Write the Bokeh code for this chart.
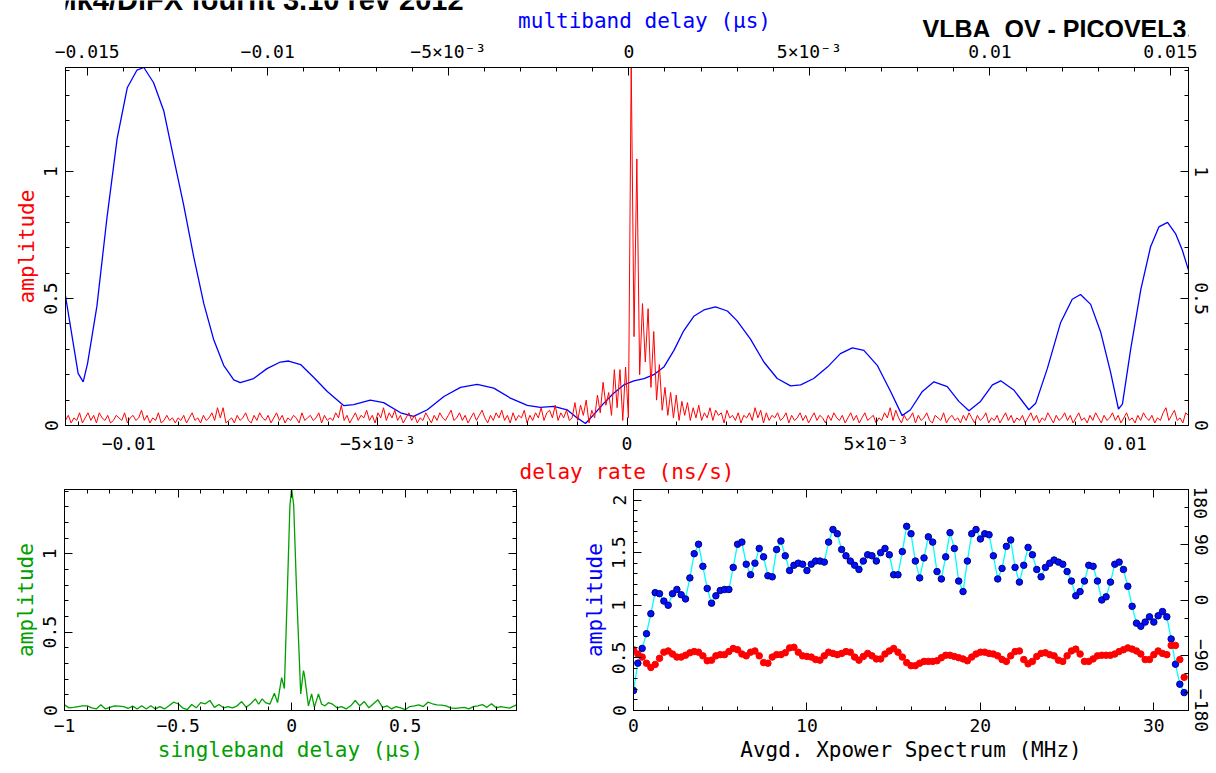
import numpy as np
from bokeh.plotting import figure
from bokeh.models import Range1d, LinearAxis, FixedTicker, CustomJSTickFormatter
from bokeh.core.properties import value
from bokeh.layouts import column, row
from bokeh.embed import file_html
from bokeh.resources import INLINE

FONT = "DejaVu Sans Mono"
BLUE = "#0000ff"
RED = "#ff0000"
GREEN = "#00a000"
CYAN = "#00ffff"

# ---------------- data ----------------
# multiband delay (us) vs amplitude  (blue, top axis)
mbd_delay = [-0.01560, -0.01525, -0.01511, -0.01499, -0.01473, -0.01445, -0.01417, -0.01389, -0.01362, -0.01343,
             -0.01316, -0.01288, -0.01260, -0.01233, -0.01205, -0.01177, -0.01150, -0.01122, -0.01094, -0.01076,
             -0.01039, -0.01002, -0.00965, -0.00942, -0.00909, -0.00873, -0.00835, -0.00789, -0.00762, -0.00716,
             -0.00679, -0.00632, -0.00596, -0.00558, -0.00512, -0.00466, -0.00420, -0.00374, -0.00328, -0.00281,
             -0.00245, -0.00208, -0.00171, -0.00143, -0.00120, -0.00097, -0.00069, -0.00042, -0.00014, 0.00014,
             0.00042, 0.00069, 0.00097, 0.00125, 0.00152, 0.00180, 0.00208, 0.00240, 0.00273, 0.00300,
             0.00337, 0.00374, 0.00411, 0.00448, 0.00476, 0.00512, 0.00550, 0.00586, 0.00619, 0.00651,
             0.00688, 0.00725, 0.00757, 0.00780, 0.00813, 0.00845, 0.00882, 0.00914, 0.00942, 0.00974,
             0.01007, 0.01030, 0.01066, 0.01108, 0.01127, 0.01159, 0.01196, 0.01228, 0.01251, 0.01279,
             0.01307, 0.01334, 0.01356, 0.01367, 0.01390, 0.01418, 0.01445, 0.01468, 0.01492, 0.01514,
             0.01533, 0.01551]
mbd_amp = [0.51, 0.205, 0.172, 0.244, 0.47, 0.82, 1.13, 1.33, 1.40, 1.41,
           1.35, 1.24, 1.05, 0.87, 0.665, 0.48, 0.34, 0.237, 0.18, 0.169,
           0.185, 0.224, 0.25, 0.254, 0.24, 0.19, 0.134, 0.078, 0.082, 0.10,
           0.09, 0.05, 0.036, 0.062, 0.114, 0.15, 0.162, 0.147, 0.108, 0.079,
           0.071, 0.075, 0.062, 0.03, 0.008, 0.043, 0.088, 0.127, 0.16, 0.176,
           0.185, 0.20, 0.23, 0.296, 0.373, 0.43, 0.455, 0.467, 0.451, 0.412,
           0.34, 0.25, 0.185, 0.156, 0.16, 0.185, 0.23, 0.283, 0.306, 0.296,
           0.237, 0.134, 0.039, 0.062, 0.134, 0.172, 0.153, 0.095, 0.058, 0.095,
           0.16, 0.176, 0.14, 0.062, 0.088, 0.224, 0.406, 0.497, 0.516, 0.477,
           0.367, 0.211, 0.065, 0.084, 0.302, 0.536, 0.704, 0.782, 0.80, 0.756,
           0.69, 0.607]

# delay-rate spectrum (red, bottom axis), evenly spaced over the delay-rate window
RATE_LIMIT = 0.01127
rate_amp = [
    0.02, 0.04, 0.01, 0.03, 0.02, 0.05, 0.01, 0.03, 0.05, 0.02, 0.04, 0.01, 0.05, 0.03, 0.02, 0.04, 0.01, 0.02, 0.04, 0.03,
    0.02, 0.05, 0.01, 0.03, 0.04, 0.02, 0.03, 0.06, 0.02, 0.04, 0.01, 0.03, 0.02, 0.05, 0.01, 0.02, 0.04, 0.02, 0.03, 0.01,
    0.03, 0.02, 0.04, 0.01, 0.03, 0.05, 0.02, 0.03, 0.01, 0.04, 0.02, 0.03, 0.05, 0.02, 0.07, 0.03, 0.07, 0.01, 0.02, 0.03,
    0.01, 0.04, 0.02, 0.03, 0.05, 0.02, 0.01, 0.04, 0.02, 0.05, 0.03, 0.02, 0.04, 0.01, 0.03, 0.05, 0.02, 0.04, 0.01, 0.03,
    0.02, 0.04, 0.03, 0.01, 0.05, 0.02, 0.03, 0.04, 0.02, 0.03, 0.05, 0.01, 0.04, 0.02, 0.03, 0.02, 0.05, 0.03, 0.08, 0.02,
    0.04, 0.01, 0.03, 0.05, 0.02, 0.04, 0.03, 0.06, 0.02, 0.04, 0.01, 0.05, 0.03, 0.07, 0.02, 0.05, 0.03, 0.06, 0.02, 0.04,
    0.01, 0.03, 0.05, 0.02, 0.04, 0.01, 0.03, 0.02, 0.05, 0.03, 0.01, 0.04, 0.02, 0.05, 0.03, 0.02, 0.04, 0.06, 0.02, 0.03,
    0.05, 0.02, 0.04, 0.01, 0.03, 0.05, 0.02, 0.04, 0.06, 0.03, 0.01, 0.04, 0.02, 0.05, 0.03, 0.06, 0.02, 0.04, 0.01, 0.05,
    0.02, 0.04, 0.03, 0.06, 0.01, 0.04, 0.02, 0.05, 0.03, 0.07, 0.02, 0.05, 0.06, 0.03, 0.08, 0.02, 0.05, 0.03, 0.06, 0.02,
    0.03, 0.09, 0.02, 0.08, 0.04, 0.10, 0.01, 0.06, 0.03, 0.12, 0.05, 0.17, 0.08, 0.13, 0.04, 0.22, 0.07, 0.22, 0.02, 0.23,
    0.03, 1.42, 0.35, 1.05, 0.20, 0.48, 0.25, 0.46, 0.15, 0.37, 0.10, 0.24, 0.06, 0.15, 0.04, 0.13, 0.03, 0.12, 0.02, 0.095,
    0.04, 0.09, 0.02, 0.07, 0.03, 0.08, 0.02, 0.05, 0.03, 0.07, 0.02, 0.06, 0.04, 0.05, 0.01, 0.06, 0.03, 0.04, 0.02, 0.05,
    0.01, 0.04, 0.03, 0.05, 0.02, 0.07, 0.03, 0.06, 0.01, 0.05, 0.02, 0.04, 0.03, 0.05, 0.02, 0.03, 0.05, 0.01, 0.04, 0.02,
    0.03, 0.05, 0.02, 0.04, 0.01, 0.03, 0.05, 0.02, 0.04, 0.03, 0.01, 0.04, 0.02, 0.05, 0.03, 0.02, 0.04, 0.01, 0.03, 0.05,
    0.02, 0.04, 0.01, 0.03, 0.05, 0.02, 0.03, 0.04, 0.01, 0.03, 0.02, 0.05, 0.03, 0.07, 0.02, 0.06, 0.03, 0.01, 0.04, 0.02,
    0.03, 0.05, 0.01, 0.04, 0.02, 0.03, 0.05, 0.02, 0.01, 0.04, 0.03, 0.02, 0.05, 0.01, 0.03, 0.04, 0.02, 0.03, 0.01, 0.04,
    0.02, 0.05, 0.03, 0.01, 0.04, 0.02, 0.03, 0.05, 0.01, 0.03, 0.02, 0.04, 0.01, 0.03, 0.05, 0.02, 0.04, 0.01, 0.03, 0.02,
    0.04, 0.01, 0.03, 0.05, 0.02, 0.04, 0.01, 0.03, 0.02, 0.05, 0.03, 0.01, 0.04, 0.02, 0.03, 0.05, 0.02, 0.04, 0.01, 0.03,
    0.05, 0.02, 0.03, 0.01, 0.04, 0.02, 0.05, 0.03, 0.01, 0.04, 0.02, 0.03, 0.05, 0.02, 0.04, 0.01, 0.03, 0.05, 0.02, 0.03,
    0.01, 0.04, 0.02, 0.05, 0.03, 0.02, 0.04, 0.01, 0.03, 0.02, 0.05, 0.07, 0.02, 0.04, 0.06, 0.02, 0.03, 0.01, 0.05, 0.04,
]

# singleband delay (us) vs amplitude (green)
sbd_delay = [-1.00, -0.98, -0.96, -0.94, -0.92, -0.90, -0.88, -0.86, -0.84, -0.82,
             -0.80, -0.78, -0.76, -0.74, -0.72, -0.70, -0.68, -0.66, -0.64, -0.62,
             -0.60, -0.58, -0.56, -0.54, -0.52, -0.50, -0.48, -0.46, -0.44, -0.42,
             -0.40, -0.38, -0.36, -0.34, -0.32, -0.30, -0.28, -0.26, -0.24, -0.22,
             -0.20, -0.18, -0.16, -0.145, -0.13, -0.115, -0.096, -0.076, -0.062, -0.044,
             -0.032, -0.018, -0.0075, 0.0, 0.009, 0.022, 0.040, 0.052, 0.056, 0.074,
             0.088, 0.100, 0.118, 0.132, 0.147, 0.162, 0.18, 0.20, 0.22, 0.24,
             0.26, 0.28, 0.30, 0.32, 0.34, 0.36, 0.38, 0.40, 0.42, 0.44,
             0.46, 0.48, 0.50, 0.52, 0.54, 0.56, 0.58, 0.60, 0.62, 0.64,
             0.66, 0.68, 0.70, 0.72, 0.74, 0.76, 0.78, 0.80, 0.82, 0.84,
             0.86, 0.88, 0.90, 0.92, 0.94, 0.96, 0.98, 0.99]
sbd_amp = [0.036, 0.017, 0.02, 0.025, 0.03, 0.03, 0.017, 0.01, 0.036, 0.01,
           0.02, 0.03, 0.028, 0.025, 0.013, 0.028, 0.01, 0.03, 0.01, 0.03,
           0.01, 0.025, 0.01, 0.03, 0.053, 0.043, 0.017, 0.005, 0.038, 0.017,
           0.05, 0.043, 0.064, 0.02, 0.038, 0.017, 0.025, 0.017, 0.03, 0.057,
           0.02, 0.043, 0.074, 0.04, 0.074, 0.05, 0.04, 0.11, 0.05, 0.21,
           0.14, 0.80, 1.31, 1.415, 1.31, 0.755, 0.106, 0.255, 0.23, 0.03,
           0.106, 0.02, 0.106, 0.04, 0.03, 0.05, 0.04, 0.017, 0.025, 0.01,
           0.03, 0.064, 0.03, 0.057, 0.017, 0.043, 0.068, 0.02, 0.03, 0.01,
           0.025, 0.017, 0.005, 0.025, 0.03, 0.036, 0.025, 0.053, 0.043, 0.036,
           0.034, 0.03, 0.017, 0.013, 0.017, 0.02, 0.01, 0.025, 0.03, 0.038,
           0.02, 0.043, 0.017, 0.025, 0.02, 0.015, 0.03, 0.036]

# averaged cross-power spectrum: 128 channels, 0.25 MHz apart
xp_freq = np.arange(128) * 0.25
xp_amp = [0.19, 0.45, 0.59, 0.73, 0.92, 1.12, 1.11, 1.04, 1.00, 1.11,
          1.15, 1.10, 1.06, 1.26, 1.49, 1.58, 1.37, 1.16, 1.02, 1.09,
          1.14, 1.15, 1.15, 1.36, 1.58, 1.60, 1.39, 1.29, 1.40, 1.54,
          1.46, 1.28, 1.27, 1.53, 1.61, 1.47, 1.33, 1.38, 1.40, 1.39,
          1.33, 1.39, 1.42, 1.42, 1.41, 1.60, 1.72, 1.68, 1.53, 1.47,
          1.42, 1.38, 1.34, 1.42, 1.48, 1.47, 1.42, 1.50, 1.54, 1.48,
          1.29, 1.29, 1.51, 1.75, 1.68, 1.42, 1.26, 1.45, 1.65, 1.60,
          1.32, 1.25, 1.46, 1.69, 1.54, 1.23, 1.13, 1.42, 1.68, 1.72,
          1.63, 1.68, 1.67, 1.47, 1.25, 1.35, 1.56, 1.62, 1.36, 1.22,
          1.38, 1.55, 1.48, 1.34, 1.27, 1.36, 1.40, 1.43, 1.41, 1.39,
          1.32, 1.23, 1.09, 1.13, 1.23, 1.38, 1.37, 1.23, 1.05, 1.08,
          1.22, 1.39, 1.41, 1.34, 1.18, 0.99, 0.83, 0.80, 0.84, 0.89,
          0.84, 0.90, 0.94, 0.89, 0.68, 0.44, 0.25, 0.17]
xp_phase = [-81, -88, -93, -103, -110, -105, -95, -85, -83, -88,
            -93, -93, -90, -86, -84, -85, -91, -99, -98, -91,
            -89, -89, -84, -79, -81, -88, -91, -85, -83, -91,
            -102, -103, -93, -89, -89, -86, -78, -77, -85, -91,
            -92, -93, -97, -98, -91, -85, -87, -89, -87, -84,
            -85, -93, -98, -92, -87, -91, -96, -96, -88, -83,
            -79, -85, -93, -102, -107, -107, -103, -100, -100, -100,
            -99, -94, -90, -90, -92, -94, -96, -99, -93, -88,
            -85, -85, -87, -88, -91, -97, -100, -91, -84, -83,
            -97, -104, -100, -92, -87, -86, -89, -91, -98, -100,
            -91, -83, -80, -88, -100, -100, -96, -91, -90, -90,
            -90, -88, -84, -81, -78, -80, -83, -88, -97, -97,
            -89, -83, -87, -89, -74, -74, -97, -126]

# tick values and labels
rate_ticks = [-0.01, -0.005, 0, 0.005, 0.01]
rate_labels = ["\u22120.01", "\u22125\u00d710\u207b\u00b3", "0", "5\u00d710\u207b\u00b3", "0.01"]
mbd_ticks = [-0.015, -0.01, -0.005, 0, 0.005, 0.01, 0.015]
mbd_labels = ["\u22120.015", "\u22120.01", "\u22125\u00d710\u207b\u00b3", "0", "5\u00d710\u207b\u00b3", "0.01", "0.015"]
amp_ticks = [0, 0.5, 1]
amp_labels = ["0", "0.5", "1"]
sbd_ticks = [-1, -0.5, 0, 0.5]
sbd_labels = ["\u22121", "\u22120.5", "0", "0.5"]
freq_ticks = [0, 10, 20, 30]
freq_labels = ["0", "10", "20", "30"]
xamp_ticks = [0, 0.5, 1, 1.5, 2]
xamp_labels = ["0", "0.5", "1", "1.5", "2"]
phase_ticks = [-180, -90, 0, 90, 180]
phase_labels = ["\u2212180", "\u221290", "0", "90", "180"]


def minor(lo, hi, step):
    n0 = int(round(lo / step))
    n1 = int(round(hi / step))
    return [round(k * step, 6) for k in range(n0, n1 + 1)]


def make_axis(ticks, minor_ticks, labels=None, title="", title_color="black",
              vertical=False, standoff=8, **kw):
    ax = LinearAxis(ticker=FixedTicker(ticks=ticks, minor_ticks=minor_ticks), **kw)
    ax.major_tick_in = 8
    ax.major_tick_out = 0
    ax.minor_tick_in = 4
    ax.minor_tick_out = 0
    ax.axis_line_color = "black"
    ax.major_tick_line_color = "black"
    ax.minor_tick_line_color = "black"
    if labels is None:
        ax.major_label_text_font_size = "0px"
        ax.major_label_standoff = 0
        ax.formatter = CustomJSTickFormatter(code="return '';")
    else:
        ax.formatter = CustomJSTickFormatter(args=dict(t=ticks, l=labels), code="""
            for (let i = 0; i < t.length; i++) {
                if (Math.abs(tick - t[i]) < 1e-9) { return l[i]; }
            }
            return '';
        """)
        ax.major_label_text_font = FONT
        ax.major_label_text_font_size = "18px"
        ax.major_label_text_color = "black"
        ax.major_label_standoff = standoff
        if vertical:
            ax.major_label_orientation = "vertical"
    if title:
        ax.axis_label = title
        ax.axis_label_text_font = FONT
        ax.axis_label_text_font_size = "21px"
        ax.axis_label_text_font_style = "normal"
        ax.axis_label_text_color = title_color
        ax.axis_label_standoff = 3
    return ax


def base_figure(width, height, xr, yr, left, right, top, bottom):
    p = figure(width=width, height=height, x_range=xr, y_range=yr,
               x_axis_type=None, y_axis_type=None, toolbar_location=None,
               output_backend="svg",
               min_border_left=left, min_border_right=right,
               min_border_top=top, min_border_bottom=bottom)
    p.outline_line_color = "black"
    p.outline_line_width = 1
    p.outline_line_alpha = 1
    p.background_fill_color = "white"
    p.border_fill_color = "white"
    return p


# ---------------- header strip (page-pixel coordinates, y downwards) ----------------
HEAD_H = 37
header = figure(width=1216, height=HEAD_H, x_range=Range1d(0, 1216), y_range=Range1d(HEAD_H, 0),
                x_axis_type=None, y_axis_type=None, toolbar_location=None, output_backend="svg",
                min_border_left=0, min_border_right=0, min_border_top=0, min_border_bottom=0)
header.outline_line_color = None
header.background_fill_color = "white"
header.border_fill_color = "white"
header.text(x=[-14], y=[-1], text=["Mk4/DiFX fourfit 3.10 rev 2012"],
            text_font=value("Liberation Sans"), text_font_style="bold",
            text_font_size="29px", text_baseline="middle", text_align="left",
            text_color="black")
header.text(x=[627], y=[20], text=["multiband delay (\u03bcs)"],
            text_font=value(FONT), text_font_size="21px",
            text_baseline="middle", text_align="center", text_color=BLUE)
header.text(x=[928], y=[28], text=["VLBA_OV - PICOVEL3,"],
            text_font=value("Liberation Sans"), text_font_style="bold",
            text_font_size="25px", text_baseline="middle", text_align="left",
            text_color="black")

# ---------------- top panel: delay rate / multiband delay ----------------
AMP_TOP = 1.41
TOP_H = 486 - HEAD_H
top = base_figure(1216, TOP_H, Range1d(-RATE_LIMIT, RATE_LIMIT), Range1d(0, AMP_TOP),
                  65, 28, 65 - HEAD_H, 58)
top.extra_x_ranges = {"mbd": Range1d(-0.0156, 0.0155)}

top.add_layout(make_axis(rate_ticks, minor(-0.011, 0.011, 0.001), rate_labels,
                         "delay rate (ns/s)", RED, standoff=7), "below")
top.add_layout(make_axis(mbd_ticks, minor(-0.015, 0.015, 0.001), mbd_labels,
                         standoff=6, x_range_name="mbd"), "above")
top.add_layout(make_axis(amp_ticks, minor(0, 1.4, 0.1), amp_labels,
                         "amplitude", RED, vertical=True), "left")
top.add_layout(make_axis(amp_ticks, minor(0, 1.4, 0.1), amp_labels, vertical=True,
                         standoff=6), "right")

rate_x = np.linspace(-RATE_LIMIT, RATE_LIMIT, len(rate_amp))
top.line(mbd_delay, mbd_amp, line_color=BLUE, line_width=1.3, x_range_name="mbd")
top.line(rate_x, rate_amp, line_color=RED, line_width=1)

# ---------------- bottom left: singleband delay ----------------
sbd = base_figure(568, 287, Range1d(-1, 0.99), Range1d(0, AMP_TOP), 64, 52, 3, 63)
sbd.add_layout(make_axis(sbd_ticks, minor(-1, 0.9, 0.1), sbd_labels,
                         "singleband delay (\u03bcs)", GREEN), "below")
sbd.add_layout(make_axis(sbd_ticks, minor(-1, 0.9, 0.1)), "above")
sbd.add_layout(make_axis(amp_ticks, minor(0, 1.4, 0.1), amp_labels,
                         "amplitude", GREEN, vertical=True), "left")
sbd.add_layout(make_axis(amp_ticks, minor(0, 1.4, 0.1)), "right")
sbd.line(sbd_delay, sbd_amp, line_color=GREEN, line_width=1.3)

# ---------------- bottom right: cross-power spectrum ----------------
xp = base_figure(648, 287, Range1d(0, 32), Range1d(0, 2.1), 65, 28, 3, 63)
xp.extra_y_ranges = {"phase": Range1d(-180, 180)}
xp.add_layout(make_axis(freq_ticks, minor(0, 32, 2), freq_labels,
                        "Avgd. Xpower Spectrum (MHz)", "black"), "below")
xp.add_layout(make_axis(freq_ticks, minor(0, 32, 2)), "above")
xp.add_layout(make_axis(xamp_ticks, minor(0, 2.1, 0.1), xamp_labels,
                        "amplitude", BLUE, vertical=True), "left")
xp.add_layout(make_axis(phase_ticks, minor(-180, 180, 30), phase_labels,
                        vertical=True, standoff=6, y_range_name="phase"), "right")
xp.line(xp_freq, xp_amp, line_color=CYAN, line_width=1.3)
xp.scatter(xp_freq, xp_amp, marker="circle", size=6.5, fill_color="#0010ff", line_color="#000080", line_width=1)
xp.scatter(xp_freq, xp_phase, marker="circle", size=6.5, fill_color=RED, line_color=RED,
           y_range_name="phase")

layout = column(header, top, row(sbd, xp))
open("out.html", "w").write(file_html(layout, INLINE))
